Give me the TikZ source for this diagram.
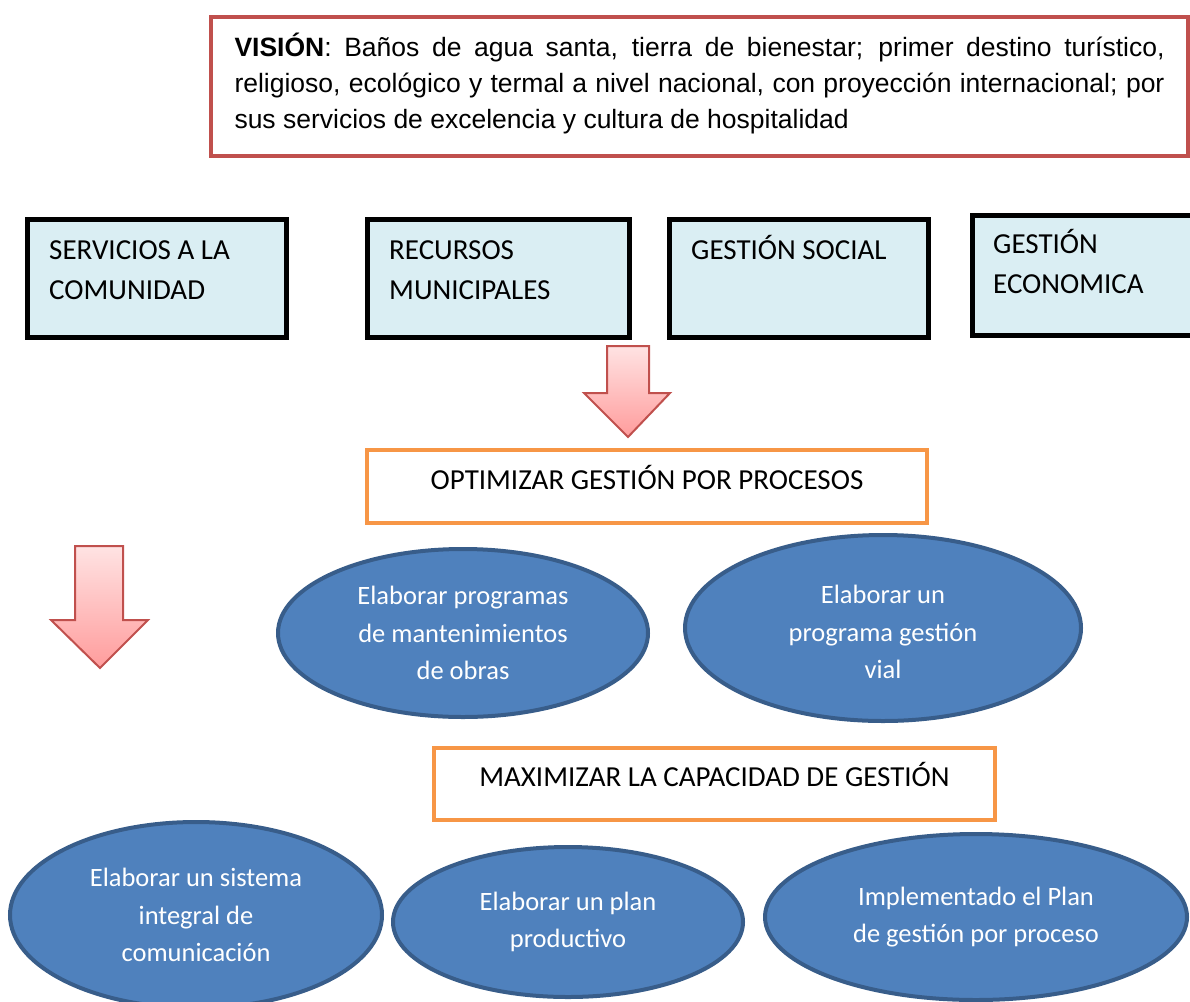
\documentclass[tikz,border=0pt]{standalone}
\usepackage{fontspec}
\setmainfont{Carlito}
\newfontfamily\arialf{Liberation Sans}
\usetikzlibrary{shapes.geometric}
\definecolor{visred}{HTML}{C0504D}
\definecolor{boxblue}{HTML}{DAEEF3}
\definecolor{orng}{HTML}{F79646}
\definecolor{ellfill}{HTML}{4F81BD}
\definecolor{elldraw}{HTML}{385D8A}
\definecolor{arrtop}{HTML}{FFE3E3}
\definecolor{arrbot}{HTML}{FF9C9C}
\begin{document}
\begin{tikzpicture}[x=1pt,y=-1pt,
  lbox/.style={draw=black, line width=5pt, fill=boxblue, inner sep=0pt, anchor=north west},
  ltext/.style={anchor=north west, inner sep=0pt, align=left, font=\fontsize{29}{40}\selectfont},
  obox/.style={draw=orng, line width=4pt, fill=white, inner sep=0pt, anchor=north west, font=\fontsize{29}{35}\selectfont, text height=19pt, text depth=14pt},
  oval/.style={ellipse, draw=elldraw, line width=4pt, fill=ellfill, inner sep=0pt, text=white, align=center, font=\fontsize{26.5}{37.5}\selectfont},
  blockarrow/.style={draw=visred, line width=2pt, top color=arrtop, bottom color=arrbot, line join=miter}
]
\useasboundingbox (0,0) rectangle (1190,1001);
\clip (0,0) rectangle (1190,1001);

% Vision
\node[draw=visred, line width=4pt, fill=white, minimum width=977pt, minimum height=139pt, inner sep=0pt, anchor=north west] (vis) at (209,15) {};
\node[text width=930pt, align=justify, inner sep=0pt, font=\arialf\fontsize{26.5}{36}\selectfont] (vistext) at ([yshift=3pt]vis.center) {\textbf{VISIÓN}: Baños de agua santa, tierra de bienestar; primer destino turístico,\linebreak religioso, ecológico y termal a nivel nacional, con proyección internacional; por\linebreak sus servicios de excelencia y cultura de hospitalidad};

% Light blue boxes
\node[lbox, minimum width=259pt, minimum height=118pt] (b1) at (25,217) {};
\node[ltext] (t1) at (49,231) {\rule{0pt}{28pt}SERVICIOS A LA\\COMUNIDAD};
\node[lbox, minimum width=262pt, minimum height=118pt] (b2) at (365,217) {};
\node[ltext] (t2) at (389,231) {\rule{0pt}{28pt}RECURSOS\\MUNICIPALES};
\node[lbox, minimum width=259pt, minimum height=118pt] (b3) at (667,217) {};
\node[ltext] (t3) at (691,231) {\rule{0pt}{28pt}GESTIÓN SOCIAL};
\node[lbox, minimum width=290pt, minimum height=120pt] (b4) at (970,213) {};
\node[ltext] (t4) at (993,225) {\rule{0pt}{28pt}GESTIÓN\\ECONOMICA};

% Block arrows
\draw[blockarrow] (607,346) -- (649,346) -- (649,393) -- (670,393) -- (628,437) -- (584,393) -- (607,393) -- cycle;
\draw[blockarrow] (75,546) -- (123,546) -- (123,620) -- (148,620) -- (100,668) -- (51,620) -- (75,620) -- cycle;

% Orange boxes
\node[obox, minimum width=560pt, minimum height=73pt] (o1) at (365,448) {OPTIMIZAR GESTIÓN POR PROCESOS};
\node[obox, minimum width=561pt, minimum height=72pt] (o2) at (432,746) {MAXIMIZAR LA CAPACIDAD DE GESTIÓN};

% Ellipses
\node[oval, minimum width=370pt, minimum height=168pt] (e1) at (463,633) {Elaborar programas\\de mantenimientos\\de obras};
\node[oval, minimum width=396pt, minimum height=186pt] (e2) at (883,628) {\rule{0pt}{27pt}Elaborar un\\programa gestión\\vial};
\node[oval, minimum width=372pt, minimum height=186pt] (e3) at (196,915) {Elaborar un sistema\\integral de\\comunicación};
\node[oval, minimum width=350pt, minimum height=150pt] (e4) at (568,922) {Elaborar un plan\\productivo};
\node[oval, minimum width=422pt, minimum height=166pt] (e5) at (976,917) {Implementado el Plan\\de gestión por proceso};
\end{tikzpicture}
\end{document}
